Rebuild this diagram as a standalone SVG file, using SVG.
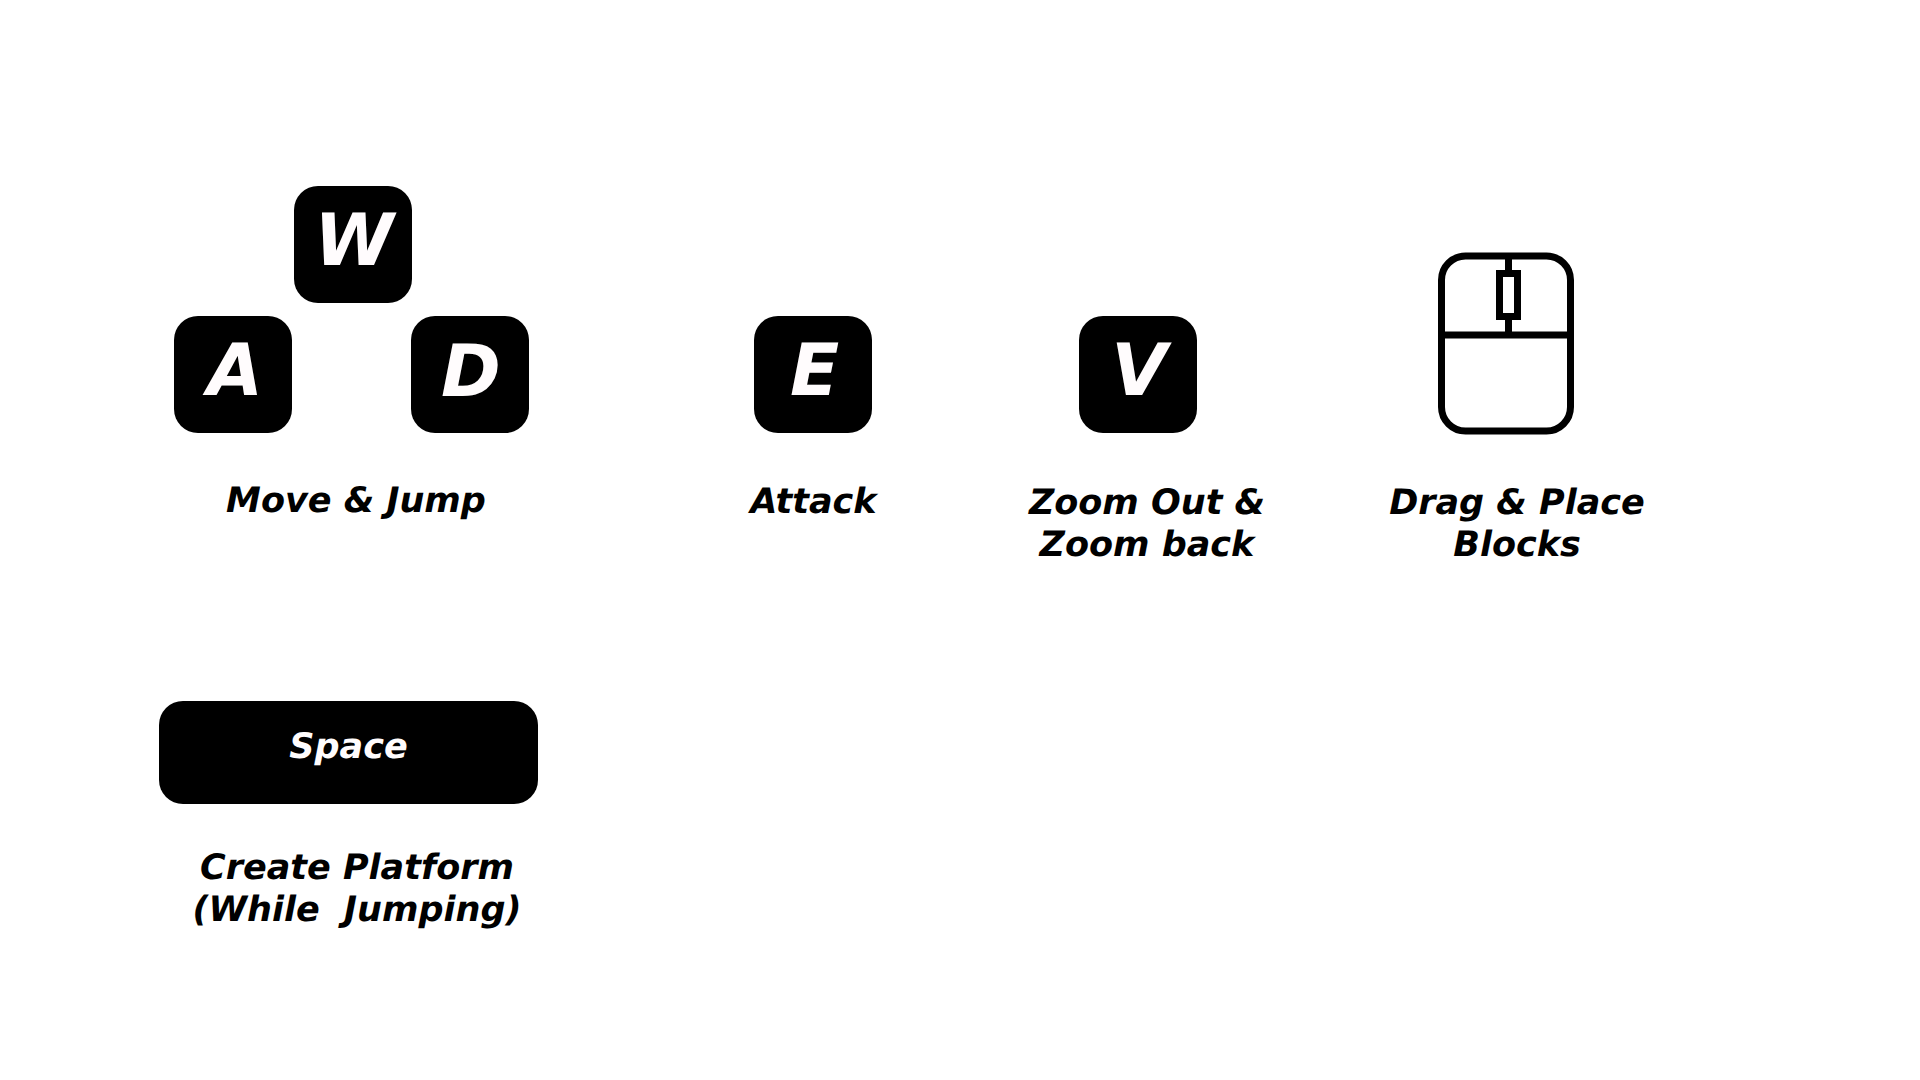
<svg xmlns="http://www.w3.org/2000/svg" width="1920" height="1080" viewBox="0 0 1920 1080">
<style>
text{font-family:"DejaVu Sans",sans-serif;font-weight:700;font-style:italic;text-anchor:middle;text-rendering:geometricPrecision}
.key{fill:#000}
.k{fill:#fffcfd;font-size:72px}
.s{fill:#fffcfd;font-size:35px}
.l{fill:#000;font-size:35px}
.m{fill:none;stroke:#000;stroke-width:7}
</style>
<rect width="1920" height="1080" fill="#fff"/>
<g id="key-w"><rect class="key" x="294" y="186" width="118" height="117" rx="24"/><text class="k" x="354" y="265">W</text></g>
<g id="key-a"><rect class="key" x="174" y="316" width="118" height="117" rx="24"/><text class="k" x="235" y="395">A</text></g>
<g id="key-d"><rect class="key" x="411" y="316" width="118" height="117" rx="24"/><text class="k" x="471" y="395.500">D</text></g>
<g id="label-move"><text class="l" x="356" y="511.500">Move &amp; Jump</text></g>
<g id="key-e"><rect class="key" x="754" y="316" width="118" height="117" rx="24"/><text class="k" x="814.500" y="395">E</text></g>
<g id="label-attack"><text class="l" x="813.500" y="513">Attack</text></g>
<g id="key-v"><rect class="key" x="1079" y="316" width="118" height="117" rx="24"/><text class="k" x="1139" y="395">V</text></g>
<g id="label-zoom"><text class="l" x="1147" y="514">Zoom Out &amp;</text><text class="l" x="1147" y="556">Zoom back</text></g>
<g id="mouse">
<rect class="m" x="1441.500" y="256" width="129" height="175" rx="24"/>
<path class="m" d="M1441 335H1571M1508.500 253V270M1508.500 320V335"/>
<rect class="m" x="1499.500" y="273.500" width="18" height="43"/>
</g>
<g id="label-drag"><text class="l" x="1517" y="513.500">Drag &amp; Place</text><text class="l" x="1517" y="555.500">Blocks</text></g>
<g id="key-space"><rect class="key" x="159" y="701" width="379" height="103" rx="24"/><text class="s" x="348.500" y="758">Space</text></g>
<g id="label-space"><text class="l" x="357" y="879">Create Platform</text><text class="l" xml:space="preserve" x="357" y="921">(While  Jumping)</text></g>
</svg>
